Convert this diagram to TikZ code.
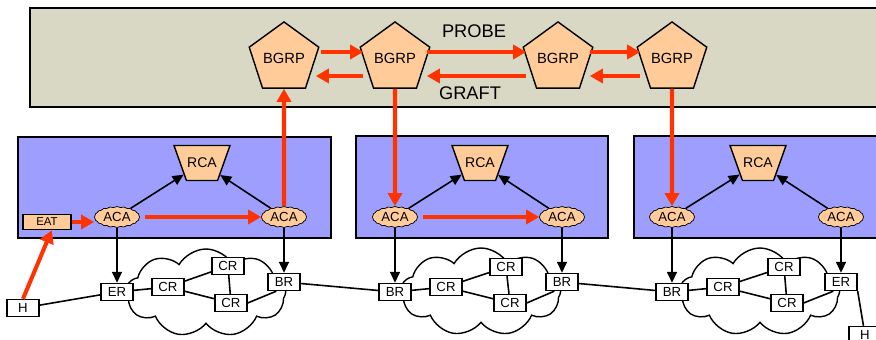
\documentclass[tikz,border=0pt]{standalone}
\usepackage{fontspec}
\setmainfont{Liberation Sans}
\usetikzlibrary{shapes.geometric,shapes.symbols,arrows.meta}

\definecolor{panelgray}{RGB}{216,216,196}
\definecolor{domainblue}{RGB}{158,158,255}
\definecolor{peach}{RGB}{255,204,153}
\definecolor{signalred}{RGB}{255,51,0}

\tikzset{
  bgrp/.style={draw,thick,fill=peach,regular polygon,regular polygon sides=5,
    minimum size=1.34cm,inner sep=0pt,font=\fontsize{8.4}{9}\selectfont},
  aca/.style={draw,fill=peach,cloud,cloud puffs=20,cloud puff arc=70,aspect=2.1,
    minimum width=0.9cm,minimum height=0.42cm,inner sep=0pt,font=\fontsize{7.5}{8}\selectfont},
  rca/.style={draw,thick,fill=peach,trapezium,shape border rotate=180,trapezium angle=40,
    trapezium stretches=true,minimum width=1.12cm,minimum height=0.7cm,inner sep=0pt,
    font=\fontsize{8}{9}\selectfont},
  router/.style={draw,thick,fill=white,minimum width=0.64cm,minimum height=0.34cm,
    inner sep=0pt,font=\fontsize{7.5}{8}\selectfont},
  eatbox/.style={draw,thick,fill=peach,minimum width=0.96cm,minimum height=0.3cm,
    inner sep=0pt,font=\fontsize{6.5}{7}\selectfont},
  netcloud/.style={draw,thick,fill=white,cloud,cloud puffs=9,cloud puff arc=120,aspect=1.8,
    minimum width=3.2cm,minimum height=1.76cm},
  sig/.style={signalred,line width=2.3pt,-{Triangle[length=0.26cm,width=0.28cm]}},
  ctl/.style={black,line width=0.9pt,-{Triangle[length=0.22cm,width=0.2cm]}},
  link/.style={black,line width=0.9pt},
}

\begin{document}
\begin{tikzpicture}[x=0.02cm,y=-0.02cm]
  \useasboundingbox (0,0) rectangle (876,340);
  \clip (0,0) rectangle (876,340);

  % BGRP layer
  \draw[thick,fill=panelgray] (30,8) rectangle (890,107);
  \node[bgrp] (b1) at (284,58.5) {BGRP};
  \node[bgrp] (b2) at (395,58.5) {BGRP};
  \node[bgrp] (b3) at (558,58.5) {BGRP};
  \node[bgrp] (b4) at (672,58.5) {BGRP};
  \node[font=\fontsize{10.4}{12}\selectfont] (probe) at (474,31) {PROBE};
  \node[font=\fontsize{10.4}{12}\selectfont] (graft) at (470,93) {GRAFT};

  \draw[sig,shorten <=3] ([yshift=0.13cm]b1.east) -- ([yshift=0.13cm]b2.west);
  \draw[sig] ([yshift=0.13cm]b2.east) -- ([yshift=0.13cm]b3.west);
  \draw[sig] ([yshift=0.13cm]b3.east) -- ([yshift=0.13cm]b4.west);
  \draw[sig] ([yshift=-0.35cm]b2.west) -- ([yshift=-0.35cm]b1.east);
  \draw[sig] ([yshift=-0.35cm]b3.west) -- ([yshift=-0.35cm]b2.east);
  \draw[sig] ([yshift=-0.35cm]b4.west) -- ([yshift=-0.35cm]b3.east);

  % domains
  \draw[thick,fill=domainblue] (18,137) rectangle (331,238);
  \draw[thick,fill=domainblue] (356,136) rectangle (608,238);
  \draw[thick,fill=domainblue] (634,136) rectangle (890,238);

  \node[rca] (rca1) at (202,163) {RCA};
  \node[rca] (rca2) at (480,163) {RCA};
  \node[rca] (rca3) at (758,163) {RCA};

  \node[aca] (aca1) at (117,217) {ACA};
  \node[aca] (aca2) at (284,217) {ACA};
  \node[aca] (aca3) at (395,217) {ACA};
  \node[aca] (aca4) at (562,217) {ACA};
  \node[aca] (aca5) at (672,217) {ACA};
  \node[aca] (aca6) at (841,217) {ACA};
  \node[eatbox] (eat) at (47,222) {EAT};

  \foreach \a/\r in {aca1/rca1,aca2/rca1,aca3/rca2,aca4/rca2,aca5/rca3,aca6/rca3}
    \draw[ctl] (\a) -- (\r);

  \draw[sig] (eat.east) -- (aca1.west |- eat.east);
  \draw[sig,shorten <=3] (aca1) -- (aca2);
  \draw[sig,shorten <=3] (aca3) -- (aca4);
  \draw[sig] (aca2) -- (b1);
  \draw[sig] (b2) -- (aca3);
  \draw[sig] (b4) -- (aca5);

  % networks
  \node[netcloud] (net1) at (206,293) {};
  \node[netcloud] (net2) at (481,292) {};
  \node[netcloud] (net3) at (760,292) {};

  \node[router] (er1) at (117,292) {ER};
  \node[router] (cr1a) at (168,287) {CR};
  \node[router] (cr1b) at (228,266) {CR};
  \node[router] (cr1c) at (231,303) {CR};
  \node[router] (br1) at (284,282) {BR};

  \node[router] (br2a) at (395,292) {BR};
  \node[router] (cr2a) at (446,287) {CR};
  \node[router] (cr2b) at (506,267) {CR};
  \node[router] (cr2c) at (510,303) {CR};
  \node[router] (br2b) at (562,282) {BR};

  \node[router] (br3a) at (672,292) {BR};
  \node[router] (cr3a) at (723,287) {CR};
  \node[router] (cr3b) at (784,267) {CR};
  \node[router] (cr3c) at (787,303) {CR};
  \node[router] (er3) at (841,282) {ER};

  \node[router] (h1) at (23,308) {H};
  \node[router] (h2) at (865,335) {H};

  \foreach \u/\v in {h1/er1,er1/cr1a,cr1a/cr1b,cr1a/cr1c,cr1b/cr1c,br1/br2a,
      br2a/cr2a,cr2a/cr2b,cr2a/cr2c,cr2b/cr2c,br2b/br3a,
      br3a/cr3a,cr3a/cr3b,cr3a/cr3c,cr3b/cr3c}
    \draw[link] (\u) -- (\v);
  \draw[link] (cr1c.east) -- (br1.230);
  \draw[link] (cr2c.east) -- (br2b.230);
  \draw[link] (cr3c.east) -- (er3.230);
  \draw[link] (er3.south east) -- (h2);

  \foreach \a/\r in {aca1/er1,aca2/br1,aca3/br2a,aca4/br2b,aca5/br3a,aca6/er3}
    \draw[ctl] (\a) -- (\r);

  \draw[sig] (h1.north) -- (eat.-60);
\end{tikzpicture}
\end{document}
